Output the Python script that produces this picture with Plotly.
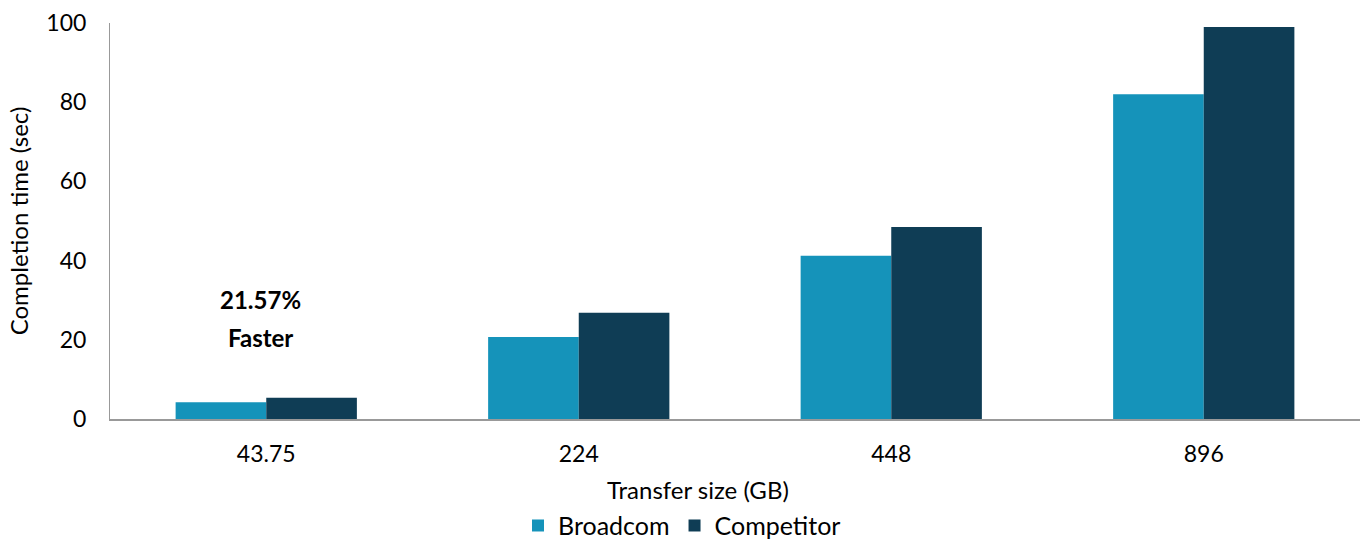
import plotly.graph_objects as go

categories = ["43.75", "224", "448", "896"]
broadcom = [4.2, 20.7, 41.2, 82.0]
competitor = [5.35, 26.8, 48.5, 99.0]
y_ticks = [0, 20, 40, 60, 80, 100]

FONT = "Lato, 'Open Sans', sans-serif"

fig = go.Figure()
fig.add_trace(go.Bar(name="Broadcom", x=categories, y=broadcom,
                     marker=dict(color="#1593BA", line=dict(width=0))))
fig.add_trace(go.Bar(name="Competitor", x=categories, y=competitor,
                     marker=dict(color="#0F3D55", line=dict(width=0))))

fig.add_annotation(x=0, y=30.3, xref="x", yref="y",
                   text="<b>21.57%</b>", showarrow=False,
                   font=dict(size=24, color="black", family=FONT),
                   align="center", xshift=-6)
fig.add_annotation(x=0, y=20.5, xref="x", yref="y",
                   text="<b>Faster</b>", showarrow=False,
                   font=dict(size=24, color="black", family=FONT),
                   align="center", xshift=-6)
# x-axis title
fig.add_annotation(x=0.47, y=-0.179, xref="paper", yref="paper",
                   text="Transfer size (GB)", showarrow=False,
                   font=dict(size=24, color="black", family=FONT),
                   xanchor="center", yanchor="middle")

fig.update_layout(
    width=1364, height=540,
    margin=dict(l=110, r=4, t=23, b=121, autoexpand=False),
    paper_bgcolor="white", plot_bgcolor="white",
    barmode="group", bargap=0.42, bargroupgap=0,
    font=dict(family=FONT, size=23, color="black"),
    showlegend=True,
    legend=dict(orientation="h", x=0.5, xanchor="center", xref="container",
                y=0.069, yanchor="top", yref="container",
                font=dict(size=25), traceorder="normal", itemwidth=30),
    xaxis=dict(
        type="category", showgrid=False, showline=True, linecolor="#999999",
        linewidth=1.5, ticks="", tickfont=dict(size=23), tickangle=0,
        automargin=False, ticklabelstandoff=14,
    ),
    yaxis=dict(
        range=[0, 100], tickvals=y_ticks, showgrid=False, showline=True,
        linecolor="#999999", linewidth=1, ticks="", tickfont=dict(size=23),
        zeroline=False, ticklabelstandoff=18, automargin=False,
        title=dict(text="Completion time (sec)", font=dict(size=24), standoff=10),
    ),
)

fig.write_html("out.html")
